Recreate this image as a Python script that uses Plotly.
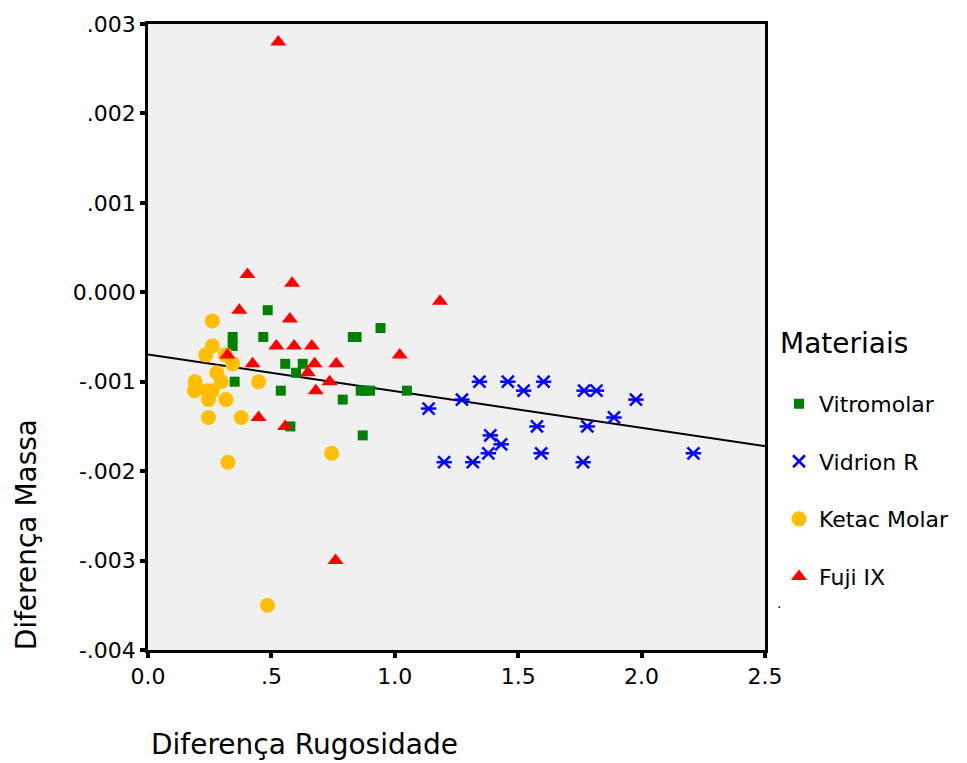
import numpy as np
import plotly.graph_objects as go

# ---- data ----
vitro_x = [0.485, 0.343, 0.467, 0.83, 0.845, 0.942, 0.343, 0.556, 0.627, 0.60,
           0.351, 0.538, 0.862, 0.88, 0.90, 1.049, 0.789, 0.577, 0.87]
vitro_y = [-0.0002, -0.0005, -0.0005, -0.0005, -0.0005, -0.0004, -0.0006, -0.0008,
           -0.0008, -0.0009, -0.001, -0.0011, -0.0011, -0.0011, -0.0011, -0.0011,
           -0.0012, -0.0015, -0.0016]

vidrion_x = [1.137, 1.272, 1.343, 1.458, 1.522, 1.603, 1.767, 1.817, 1.977, 1.888,
             1.78, 1.576, 1.387, 1.431, 1.379, 1.593, 2.21, 1.2, 1.316, 1.763]
vidrion_y = [-0.0013, -0.0012, -0.001, -0.001, -0.0011, -0.001, -0.0011, -0.0011,
             -0.0012, -0.0014, -0.0015, -0.0015, -0.0016, -0.0017, -0.0018, -0.0018,
             -0.0018, -0.0019, -0.0019, -0.0019]

ketac_x = [0.261, 0.261, 0.234, 0.313, 0.343, 0.279, 0.191, 0.297, 0.448, 0.188,
           0.24, 0.26, 0.245, 0.316, 0.245, 0.378, 0.324, 0.744, 0.484]
ketac_y = [-0.00032, -0.0006, -0.0007, -0.0007, -0.0008, -0.0009, -0.001, -0.001,
           -0.001, -0.0011, -0.0011, -0.0011, -0.0012, -0.0012, -0.0014, -0.0014,
           -0.0019, -0.0018, -0.0035]

fuji_x = [0.528, 0.403, 0.584, 1.183, 0.37, 0.575, 0.52, 0.592, 0.664, 0.322,
          1.02, 0.424, 0.675, 0.763, 0.648, 0.736, 0.68, 0.448, 0.556, 0.76]
fuji_y = [0.0028, 0.0002, 0.0001, -0.0001, -0.0002, -0.0003, -0.0006, -0.0006,
          -0.0006, -0.0007, -0.0007, -0.0008, -0.0008, -0.0008, -0.0009, -0.001,
          -0.0011, -0.0014, -0.0015, -0.003]

x_ticks = [0, 0.5, 1.0, 1.5, 2.0, 2.5]
x_ticktext = ["0.0", ".5", "1.0", "1.5", "2.0", "2.5"]
y_ticks = [0.003, 0.002, 0.001, 0.0, -0.001, -0.002, -0.003, -0.004]
y_ticktext = [".003", ".002", ".001", "0.000", "-.001", "-.002", "-.003", "-.004"]

FONT = "DejaVu Sans"
BLUE = "#0000ff"

# overall linear fit
all_x = np.array(vitro_x + vidrion_x + ketac_x + fuji_x)
all_y = np.array(vitro_y + vidrion_y + ketac_y + fuji_y)
slope, intercept = np.polyfit(all_x, all_y, 1)
fit_x = np.array([0.0, 2.5])
fit_y = intercept + slope * fit_x

fig = go.Figure()

fig.add_trace(go.Scatter(x=fit_x, y=fit_y, mode="lines",
                         line=dict(color="black", width=2), showlegend=False,
                         hoverinfo="skip"))

fig.add_trace(go.Scatter(x=vitro_x, y=vitro_y, mode="markers", name="Vitromolar",
                         legendgroup="a",
                         marker=dict(symbol="square", size=10, color="#008000")))
fig.add_trace(go.Scatter(x=vidrion_x, y=vidrion_y, mode="markers", name="Vidrion R",
                         legendgroup="b",
                         marker=dict(symbol="x-thin", size=12, color=BLUE,
                                     line=dict(color=BLUE, width=2.5))))
fig.add_trace(go.Scatter(x=vidrion_x, y=vidrion_y, mode="markers", showlegend=False,
                         legendgroup="b", hoverinfo="skip",
                         marker=dict(symbol="line-ew", size=11, color=BLUE,
                                     line=dict(color=BLUE, width=2.5))))
fig.add_trace(go.Scatter(x=ketac_x, y=ketac_y, mode="markers", name="Ketac Molar",
                         legendgroup="c",
                         marker=dict(symbol="circle", size=15, color="#ffbf00")))
fig.add_trace(go.Scatter(x=fuji_x, y=fuji_y, mode="markers", name="Fuji IX",
                         legendgroup="d",
                         marker=dict(symbol="triangle-up", size=14, color="#ff0000")))

L, R, T, B = 148, 202, 22, 113
W, H = 967, 763
pw, ph = W - L - R, H - T - B

def px(xp):
    return (xp - L) / pw

def py(yp):
    return (H - B - yp) / ph

fig.update_layout(
    width=W, height=H,
    margin=dict(l=L, r=R, t=T, b=B, pad=0),
    paper_bgcolor="white", plot_bgcolor="#f0f0f0",
    font=dict(family=FONT, color="black", size=22),
    legend=dict(
        font=dict(family=FONT, size=22, color="black"),
        x=px(779), xanchor="left", y=py(382), yanchor="top",
        tracegroupgap=26, itemwidth=30, bgcolor="rgba(0,0,0,0)",
    ),
    showlegend=True,
    annotations=[
        dict(text="Materiais", xref="paper", yref="paper",
             x=px(778), y=py(343), xanchor="left", yanchor="middle",
             showarrow=False, font=dict(family=FONT, size=28)),
        dict(text="Diferença Massa", xref="paper", yref="paper",
             x=px(26), y=py(535), xanchor="center", yanchor="middle",
             textangle=-90, showarrow=False, font=dict(family=FONT, size=28)),
        dict(text="Diferença Rugosidade", xref="paper", yref="paper",
             x=px(149), y=py(745), xanchor="left", yanchor="middle",
             showarrow=False, font=dict(family=FONT, size=28)),
        dict(text=".", xref="paper", yref="paper",
             x=px(779), y=py(603), xanchor="center", yanchor="middle",
             showarrow=False, font=dict(family=FONT, size=14)),
    ],
)

fig.update_xaxes(range=[0, 2.5], tickvals=x_ticks, ticktext=x_ticktext,
                 showgrid=False, zeroline=False, showline=True, linecolor="black",
                 linewidth=2.5, mirror=True, ticks="outside", ticklen=5,
                 tickwidth=4, tickcolor="black",
                 tickfont=dict(family=FONT, size=22, color="black"))
fig.update_yaxes(range=[-0.004, 0.003], tickvals=y_ticks, ticktext=y_ticktext,
                 showgrid=False, zeroline=False, showline=True, linecolor="black",
                 linewidth=2.5, mirror=True, ticks="outside", ticklen=5,
                 tickwidth=4, tickcolor="black",
                 tickfont=dict(family=FONT, size=22, color="black"))

fig.write_html("out.html")
